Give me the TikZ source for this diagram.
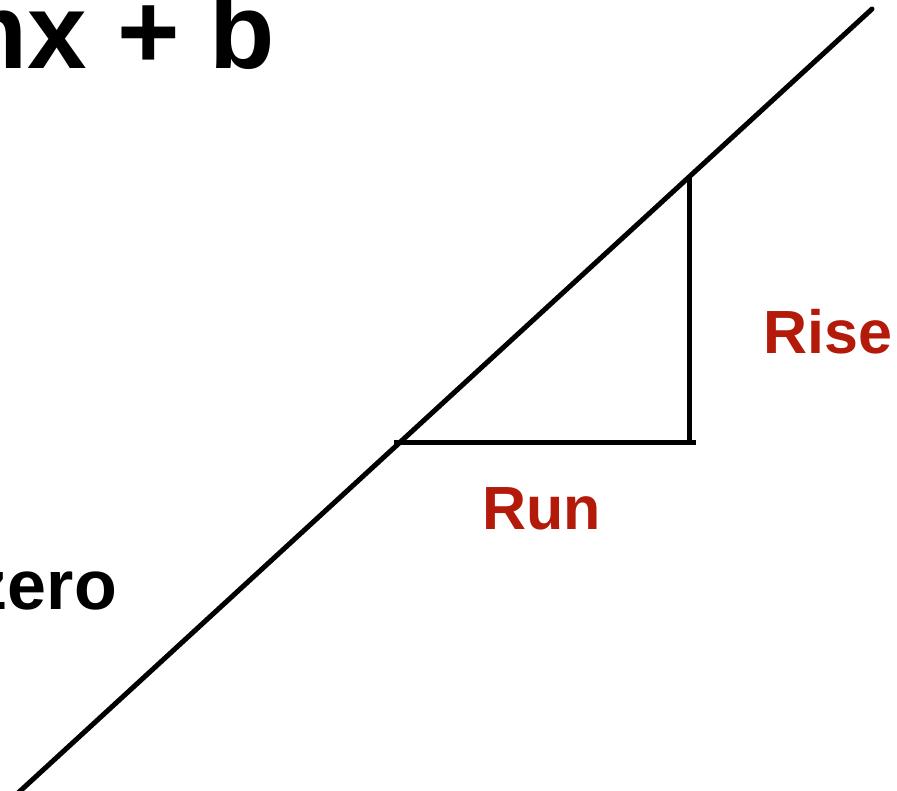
\documentclass[tikz,border=0pt]{standalone}
\usepackage{fontspec}
\setmainfont{Liberation Sans}
\definecolor{slopered}{RGB}{180,26,10}
\begin{document}
\begin{tikzpicture}[x=1pt,y=-1pt,
  lbl/.style={inner sep=0pt,font=\bfseries},
  redlbl/.style={lbl,text=slopered,font=\fontsize{61}{63}\selectfont\bfseries},
  stroke/.style={line width=5pt,black}]
\useasboundingbox (0,0) rectangle (897,791);
\clip (0,0) rectangle (897,791);
\fill[white] (0,0) rectangle (897,791);
% main line
\coordinate (lineA) at (18,793);
\coordinate (lineB) at (872,9);
\draw[stroke,line cap=round] (lineA) -- (lineB);
% triangle
\coordinate (runL) at (394,442);
\coordinate (corner) at (689,442);
\coordinate (runR) at (696,442);
\coordinate (riseT) at (689,176);
\draw[stroke] (runL) -- (runR);
\draw[stroke] (corner) -- (riseT);
% labels
\node[redlbl,anchor=base west] (rise) at (763,354) {Rise};
\node[redlbl,anchor=base west] (run) at (482,529) {Run};
\node[lbl,anchor=base east,font=\fontsize{107}{110}\selectfont\bfseries] (eq) at (275,69) {mx + b};
\node[lbl,anchor=base east,font=\fontsize{70}{72}\selectfont\bfseries] (zero) at (117,609) {zero};
\end{tikzpicture}
\end{document}
